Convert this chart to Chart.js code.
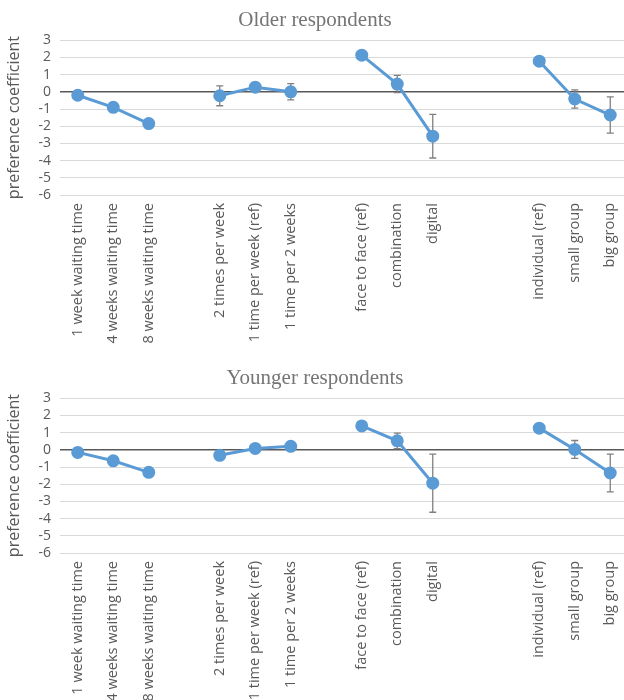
<!DOCTYPE html>
<html>
<head>
<meta charset="utf-8">
<script src="https://cdn.jsdelivr.net/npm/chart.js@4"></script>
<style>
  html, body { margin: 0; padding: 0; background: #fff; overflow: hidden; width: 624px; height: 700px; }
  .panel { position: absolute; left: -6px; width: 642px; height: 360px; }
  #older { top: 0; }
  #younger { top: 358px; }
</style>
</head>
<body>
<div class="panel" id="older"><canvas id="olderChart" width="642" height="360"></canvas></div>
<div class="panel" id="younger"><canvas id="youngerChart" width="642" height="360"></canvas></div>
<script>
// empty strings are the spacer slots between attribute groups
const categories = [
  "1 week waiting time", "4 weeks waiting time", "8 weeks waiting time", "",
  "2 times per week", "1 time per week (ref)", "1 time per 2 weeks", "",
  "face to face (ref)", "combination", "digital", "", "",
  "individual (ref)", "small group", "big group"
]

const olderValues = [-0.2, -0.9, -1.85, null, -0.23, 0.27, 0.0, null, 2.13, 0.45, -2.58, null, null, 1.78, -0.42, -1.35]
const olderErrors = [null, null, null, null, 0.58, null, 0.47, null, null, 0.5, 1.27, null, null, null, 0.53, 1.05]

const youngerValues = [-0.15, -0.64, -1.31, null, -0.32, 0.08, 0.2, null, 1.39, 0.52, -1.94, null, null, 1.26, 0.02, -1.35]
const youngerErrors = [null, null, null, null, null, null, null, null, null, 0.45, 1.69, null, null, null, 0.52, 1.1]

const yTicks = [3, 2, 1, 0, -1, -2, -3, -4, -5, -6]

const lineColor = "#5b9bd5"
const textColor = "#595959"
const titleColor = "#757575"
const gridColor = "#d9d9d9"
const errColor = "#808080"

// draws the vertical error bars behind the line and markers
const errorBars = {
  id: "errorBars",
  beforeDatasetsDraw(chart, args, opts) {
    const errs = opts.errors || []
    const meta = chart.getDatasetMeta(0)
    const y = chart.scales.y
    const values = chart.data.datasets[0].data
    const ctx = chart.ctx
    ctx.save()
    ctx.strokeStyle = errColor
    ctx.lineWidth = 1.3
    errs.forEach((e, i) => {
      if (e == null || values[i] == null) return
      const x = meta.data[i].x
      const top = y.getPixelForValue(values[i] + e)
      const bot = y.getPixelForValue(values[i] - e)
      ctx.beginPath()
      ctx.moveTo(x, top)
      ctx.lineTo(x, bot)
      ctx.moveTo(x - 3.5, top)
      ctx.lineTo(x + 3.5, top)
      ctx.moveTo(x - 3.5, bot)
      ctx.lineTo(x + 3.5, bot)
      ctx.stroke()
    })
    ctx.restore()
  }
}

function drawPanel(canvasId, title, values, errors) {
  return new Chart(document.getElementById(canvasId), {
    type: "line",
    data: {
      labels: categories,
      datasets: [{
        data: values,
        borderColor: lineColor,
        backgroundColor: lineColor,
        borderWidth: 3,
        pointRadius: 5,
        pointBackgroundColor: lineColor,
        pointBorderColor: lineColor,
        spanGaps: false,
        tension: 0
      }]
    },
    options: {
      responsive: false,
      animation: false,
      layout: { padding: 0 },
      plugins: {
        legend: { display: false },
        tooltip: { enabled: false },
        title: {
          display: true,
          text: title,
          color: titleColor,
          font: { family: "'Liberation Serif', 'DejaVu Serif', serif", size: 21, weight: "normal" },
          padding: { top: 8, bottom: 7 }
        },
        errorBars: { errors: errors }
      },
      scales: {
        x: {
          offset: true,
          grid: { display: false, drawTicks: false },
          border: { display: false },
          ticks: {
            autoSkip: false,
            maxRotation: 90,
            minRotation: 90,
            padding: 8,
            color: textColor,
            font: { family: "'Open Sans', sans-serif", size: 14.5 }
          },
          afterFit: (scale) => { scale.height = 165 }
        },
        y: {
          min: -6,
          max: 3,
          afterBuildTicks: (scale) => { scale.ticks = yTicks.map(v => ({ value: v })) },
          grid: {
            drawTicks: false,
            color: (c) => c.tick && c.tick.value === 0 ? "#595959" : gridColor,
            lineWidth: (c) => c.tick && c.tick.value === 0 ? 1.5 : 1
          },
          border: { display: false },
          ticks: {
            autoSkip: false,
            padding: 9,
            color: textColor,
            font: { family: "'Open Sans', sans-serif", size: 14 }
          },
          title: {
            display: true,
            text: "preference coefficient",
            color: textColor,
            font: { family: "'Open Sans', sans-serif", size: 16 },
            padding: { top: 11, bottom: 0 }
          },
          afterFit: (scale) => { scale.width = 66 }
        }
      }
    },
    plugins: [errorBars]
  })
}

drawPanel("olderChart", "Older respondents", olderValues, olderErrors)
drawPanel("youngerChart", "Younger respondents", youngerValues, youngerErrors)
</script>
</body>
</html>
